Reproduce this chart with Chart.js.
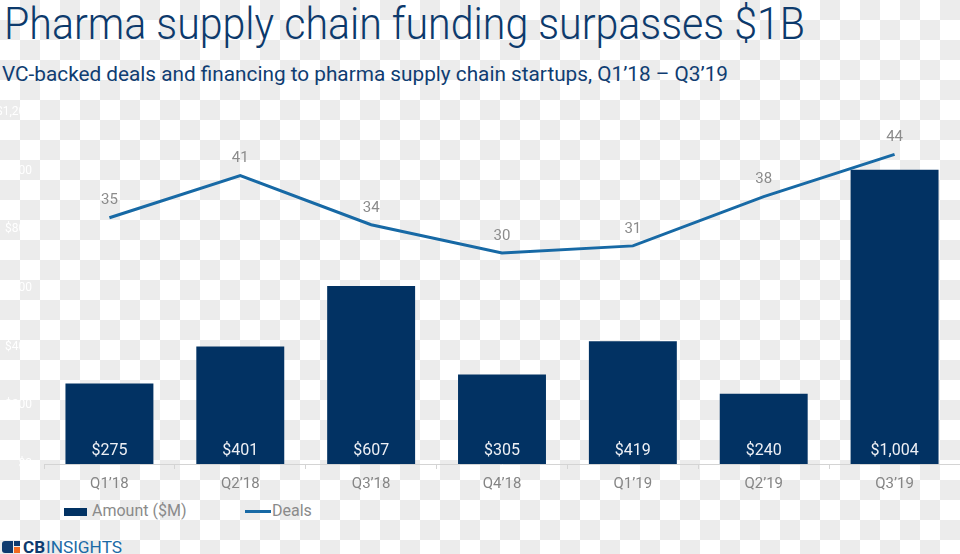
<!DOCTYPE html>
<html>
<head>
<meta charset="utf-8">
<script src="https://cdn.jsdelivr.net/npm/chart.js@4/dist/chart.umd.min.js"></script>
<style>
  html, body {
    margin: 0;
    padding: 0;
  }
  body {
    width: 960px;
    height: 554px;
    position: relative;
    overflow: hidden;
    font-family: Roboto, "Liberation Sans", sans-serif;
    background: repeating-conic-gradient(#ececec 0 25%, #ffffff 0 50%) 0 0 / 40px 40px;
  }
  .fit {
    position: absolute;
    white-space: nowrap;
    line-height: 1;
    transform-origin: 0 0;
  }
  #title {
    left: 4px;
    top: 2px;
    font-size: 44px;
    font-weight: 300;
    color: #0d3a6c;
  }
  #subtitle {
    left: 2px;
    top: 64px;
    font-size: 20px;
    color: #0f3d72;
  }
  #chartBox {
    position: absolute;
    left: 0;
    top: 93px;
    width: 960px;
    height: 405px;
  }
  .legend {
    position: absolute;
    top: 502px;
    font-size: 16px;
    line-height: 18px;
    color: #8a8a8a;
  }
  .legend span.swatch {
    position: absolute;
    display: block;
  }
  .logo-icon div {
    position: absolute;
  }
  .logo-text {
    font-size: 16px;
    top: 540px;
  }
</style>
</head>
<body>
  <div id="title" class="fit" data-w="801">Pharma supply chain funding surpasses $1B</div>
  <div id="subtitle" class="fit" data-w="726">VC-backed deals and financing to pharma supply chain startups, Q1’18 – Q3’19</div>

  <div id="chartBox"><canvas id="deals-chart"></canvas></div>

  <div class="legend" style="left:64px;">
    <span class="swatch" style="left:0;top:6px;width:23px;height:8px;background:#023263;"></span>
    <span style="position:absolute;left:28px;top:0;white-space:nowrap;">Amount ($M)</span>
  </div>
  <div class="legend" style="left:245px;">
    <span class="swatch" style="left:0;top:8px;width:26px;height:3px;background:#1769a5;"></span>
    <span style="position:absolute;left:27px;top:0;white-space:nowrap;">Deals</span>
  </div>

  <!-- логотип -->
  <div class="logo-icon">
    <div style="left:2px;top:541px;width:11px;height:12px;background:#0e3a6e;border-radius:3px 0 0 3px;"></div>
    <div style="left:14px;top:541px;width:6px;height:5px;background:#0e3a6e;"></div>
    <div style="left:14px;top:547px;width:6px;height:6px;background:#f26b21;"></div>
  </div>
  <div class="fit logo-text" data-w="22" style="left:23px;font-weight:700;color:#0e3a6e;">CB</div>
  <div class="fit logo-text" data-w="76" style="left:46px;color:#1b6aa6;">INSIGHTS</div>

<script>
  // дані графіка
  const quarters = ["Q1’18", "Q2’18", "Q3’18", "Q4’18", "Q1’19", "Q2’19", "Q3’19"];
  const amounts = [275, 401, 607, 305, 419, 240, 1004];
  const deals = [35, 41, 34, 30, 31, 38, 44];

  const barColor = "#023263";
  const lineColor = "#1769a5";

  // підгонка ширини текстів
  document.querySelectorAll(".fit").forEach((el) => {
    const target = parseFloat(el.dataset.w);
    const w = el.getBoundingClientRect().width;
    if (w > 0) el.style.transform = "scaleX(" + (target / w) + ")";
  });

  // підписи значень
  const valueLabels = {
    id: "valueLabels",
    afterDatasetsDraw(chart) {
      const ctx = chart.ctx;
      ctx.save();
      ctx.textAlign = "center";
      ctx.textBaseline = "middle";

      const barMeta = chart.getDatasetMeta(0);
      ctx.font = "16px Roboto";
      ctx.fillStyle = "#eef0f5";
      barMeta.data.forEach((bar, i) => {
        ctx.fillText("$" + amounts[i].toLocaleString("en-US"), bar.x, bar.base - 13);
      });

      const lineMeta = chart.getDatasetMeta(1);
      ctx.font = "15px Roboto";
      ctx.fillStyle = "#8c8c8c";
      lineMeta.data.forEach((pt, i) => {
        ctx.fillText(String(deals[i]), pt.x, pt.y - 17);
      });
      ctx.restore();
    }
  };

  const config = {
    type: "bar",
    data: {
      labels: quarters,
      datasets: [
        {
          label: "Amount ($M)",
          data: amounts,
          backgroundColor: barColor,
          borderWidth: 0,
          barPercentage: 0.672,
          categoryPercentage: 1,
          yAxisID: "y",
          order: 2
        },
        {
          type: "line",
          label: "Deals",
          data: deals,
          borderColor: lineColor,
          borderWidth: 3,
          pointRadius: 0,
          tension: 0,
          fill: false,
          yAxisID: "y1",
          order: 1
        }
      ]
    },
    options: {
      responsive: true,
      maintainAspectRatio: false,
      animation: false,
      layout: {
        padding: { top: 5, right: 0, left: 0, bottom: 0 }
      },
      plugins: {
        legend: { display: false },
        title: { display: false },
        tooltip: { enabled: false }
      },
      scales: {
        x: {
          grid: {
            display: true,
            drawOnChartArea: false,
            drawTicks: true,
            tickLength: 5,
            color: "#d4d4d4"
          },
          border: { display: true, color: "#d4d4d4", width: 1 },
          ticks: {
            color: "#858585",
            font: { size: 15, family: "Roboto" },
            padding: 6,
            maxRotation: 0
          },
          afterFit(scale) {
            scale.height = 34;
          }
        },
        y: {
          position: "left",
          min: 0,
          max: 1200,
          grid: { display: false, drawTicks: false },
          border: { display: false },
          ticks: {
            stepSize: 200,
            color: "#ffffff",
            padding: 12,
            font: { size: 12, family: "Roboto" },
            callback: (v) => "$" + Number(v).toLocaleString("en-US")
          },
          afterFit(scale) {
            scale.width = 44;
          }
        },
        y1: {
          display: false,
          position: "right",
          min: 0,
          max: 50
        }
      }
    },
    plugins: [valueLabels]
  };

  const ctx = document.getElementById("deals-chart").getContext("2d");
  const dealsChart = new Chart(ctx, config);
</script>
</body>
</html>
